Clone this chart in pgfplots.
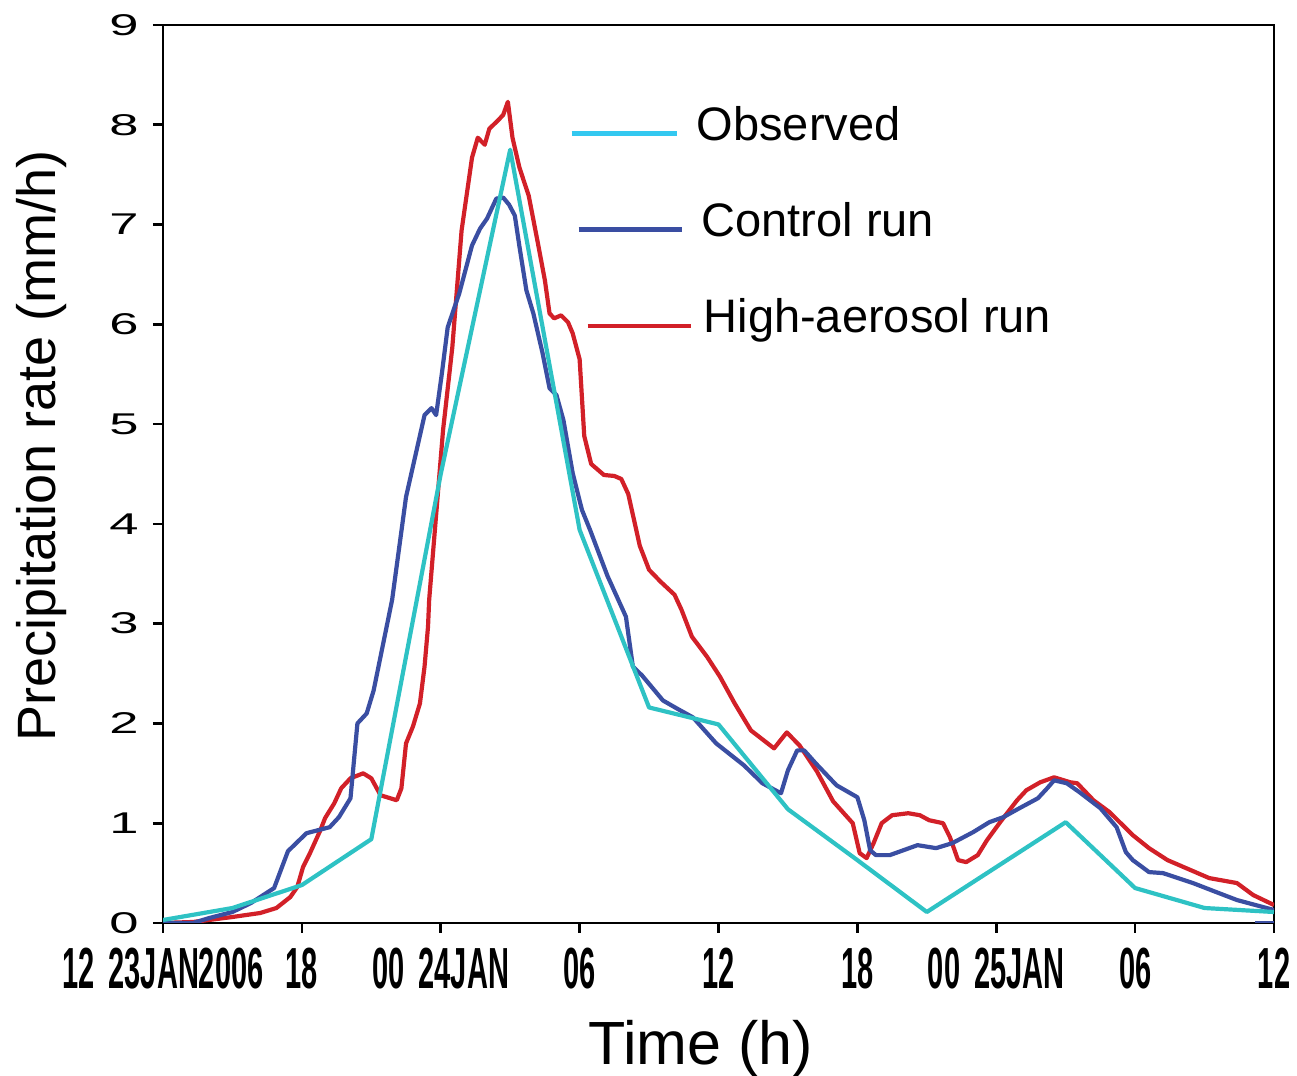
\documentclass[border=0pt]{standalone}
\usepackage{pgfplots}
\pgfplotsset{compat=1.18}
\usepackage{pgfplotstable}
\usepackage{graphicx}
\usepackage{fontspec}
\setmainfont{Liberation Sans}
\definecolor{obscol}{HTML}{2EC2C4}
\definecolor{obsleg}{HTML}{33C8F0}
\definecolor{ctlcol}{HTML}{3A4EA2}
\definecolor{redcol}{HTML}{D22028}
\newcommand{\xl}[1]{\scalebox{0.5}[1]{\bfseries #1}}
\newcommand{\yl}[1]{\scalebox{1.75}[1]{#1}}

\pgfplotstableread{
h v
0 0.03
3 0.15
6 0.38
9 0.84
12 4.5
15 7.75
18 3.94
21 2.16
24 1.99
27 1.14
30 0.63
33 0.11
36 0.56
39 1.01
42 0.35
45 0.15
48 0.11
}\obs

\pgfplotstableread{
h v
0 0
1.3 0
2 0.05
3 0.11
3.8 0.2
4.8 0.35
5.4 0.72
6.2 0.9
7.2 0.96
7.6 1.06
8.1 1.25
8.4 2.0
8.8 2.1
9.1 2.33
9.9 3.24
10.5 4.27
11.3 5.09
11.6 5.16
11.8 5.09
12.05 5.51
12.3 5.97
12.8 6.31
13.35 6.79
13.7 6.96
14 7.06
14.4 7.26
14.7 7.27
14.95 7.2
15.2 7.09
15.4 6.78
15.7 6.34
16 6.11
16.4 5.71
16.7 5.36
17 5.29
17.3 5.04
17.7 4.51
18.1 4.14
18.45 3.94
19.2 3.48
20 3.07
20.3 2.57
20.7 2.48
21.6 2.23
22.2 2.15
22.9 2.06
23.9 1.8
25.1 1.58
25.9 1.4
26.7 1.3
27 1.53
27.4 1.73
27.7 1.73
28.2 1.6
29.1 1.38
30 1.26
30.3 1.03
30.55 0.73
30.8 0.68
31.4 0.68
32.6 0.78
33.4 0.75
34.1 0.8
35 0.91
35.7 1.01
36.3 1.06
37 1.15
37.8 1.25
38.2 1.35
38.5 1.43
39.05 1.4
39.6 1.31
40.5 1.15
41.2 0.96
41.6 0.71
41.9 0.63
42.6 0.51
43.2 0.5
44.5 0.4
45.5 0.31
46.4 0.23
48 0.13
}\ctl

\pgfplotstableread{
h v
0 0
1.3 0.01
3 0.06
4.2 0.1
4.9 0.15
5.5 0.26
5.8 0.36
6.05 0.56
6.35 0.7
6.8 0.93
7 1.05
7.4 1.2
7.7 1.35
8.1 1.45
8.65 1.5
9 1.45
9.4 1.28
10.1 1.23
10.3 1.35
10.5 1.8
10.8 1.97
11.1 2.2
11.3 2.57
11.45 2.97
11.5 3.24
12.1 4.94
12.5 5.77
12.9 6.94
13.35 7.67
13.6 7.87
13.9 7.8
14.1 7.96
14.5 8.05
14.7 8.1
14.9 8.23
15.1 7.87
15.4 7.57
15.8 7.29
16.2 6.81
16.5 6.44
16.7 6.11
16.9 6.06
17.2 6.09
17.5 6.02
17.7 5.91
18 5.65
18.2 4.88
18.5 4.6
19.05 4.49
19.5 4.48
19.8 4.45
20.1 4.3
20.6 3.78
21 3.54
21.5 3.42
22.1 3.29
22.4 3.14
22.85 2.87
23.5 2.67
24.06 2.47
24.7 2.2
25.4 1.93
26.4 1.75
26.95 1.91
27.5 1.78
28.25 1.52
28.95 1.22
29.8 1.0
30.1 0.7
30.4 0.65
30.7 0.8
31.05 1.0
31.5 1.08
32.2 1.1
32.7 1.08
33.1 1.03
33.7 1.0
34 0.86
34.35 0.63
34.7 0.61
35.2 0.68
35.6 0.83
36.2 1.02
36.9 1.23
37.3 1.33
37.9 1.41
38.5 1.46
39.2 1.41
39.5 1.4
40.2 1.23
40.9 1.11
41.9 0.88
42.6 0.75
43.4 0.63
44.2 0.55
45.2 0.45
46.4 0.4
47.1 0.28
48 0.18
}\high

\begin{document}
\begin{tikzpicture}
\begin{axis}[
  name=ax, at={(0,0)}, anchor=south west,
  scale only axis, width=555.5bp, height=449bp,
  xmin=0, xmax=48, ymin=0, ymax=9,
  xtick={0,6,12,18,24,30,36,42,48},
  xticklabels={\xl{12\hspace{14bp}23JAN2006},\xl{18},\xl{00\hspace{14bp}24JAN},\xl{06},\xl{12},\xl{18},\xl{00\hspace{14bp}25JAN},\xl{06},\xl{12}},
  ytick={0,1,2,3,4,5,6,7,8,9},
  yticklabels={\yl{0},\yl{1},\yl{2},\yl{3},\yl{4},\yl{5},\yl{6},\yl{7},\yl{8},\yl{9}},
  xtick pos=bottom, ytick pos=left,
  tick align=outside, major tick length=5bp,
  tick style={line width=1.3bp, black},
  axis line style={line width=1.3bp, black},
  xticklabel style={font=\fontsize{29bp}{29bp}\selectfont, inner sep=0pt, anchor=north, yshift=-7.5bp},
  yticklabel style={font=\fontsize{15bp}{15bp}\selectfont, inner sep=0pt, anchor=east, xshift=-7bp},
  xlabel={Time (h)},
  xlabel style={font=\fontsize{30.5bp}{30.5bp}\selectfont, inner sep=0pt, anchor=base, at={(axis description cs:0.484,-0.158)}},
  ylabel={Precipitation rate (mm/h)},
  ylabel style={font=\fontsize{27bp}{27bp}\selectfont, inner sep=0pt, anchor=base, at={(axis description cs:-0.097,0.531)}},
  legend style={draw=none, fill=none, inner sep=0pt, at={(axis cs:17.54,7.986)}, anchor=north west,
    row sep=40.9bp, font=\fontsize{23.5bp}{23.5bp}\selectfont,
    nodes={inner sep=0pt, text height=0.716em, text depth=0pt}},
  legend cell align=left,
  every axis plot/.append style={line width=2.1bp, line join=round},
]
\addplot[redcol, forget plot] table[x=h, y=v] {\high};
\addplot[ctlcol, forget plot] table[x=h, y=v] {\ctl};
\addplot[ctlcol, forget plot] coordinates {(47.2,0) (48,0)};
\addplot[obscol, forget plot] table[x=h, y=v] {\obs};
\addlegendimage{legend image code/.code={\path[draw=none,fill=none] (0,0) -- (62.5bp,0); \draw[obsleg, line width=2.3bp] (0bp,0) -- (52.5bp,0);}}
\addlegendentry{Observed}
\addlegendimage{legend image code/.code={\path[draw=none,fill=none] (0,0) -- (62.5bp,0); \draw[ctlcol, line width=2.3bp] (3.5bp,0) -- (55bp,0);}}
\addlegendentry[xshift=2.5bp]{Control run}
\addlegendimage{legend image code/.code={\path[draw=none,fill=none] (0,0) -- (62.5bp,0); \draw[redcol, line width=2.3bp] (8bp,0) -- (59.5bp,0);}}
\addlegendentry[xshift=3.5bp]{High-aerosol run}
\end{axis}
\pgfresetboundingbox
\path[use as bounding box] ([xshift=-81.5bp,yshift=-76.5bp]ax.south west) rectangle ([xshift=11.5bp,yshift=12.5bp]ax.north east);
\end{tikzpicture}
\end{document}
